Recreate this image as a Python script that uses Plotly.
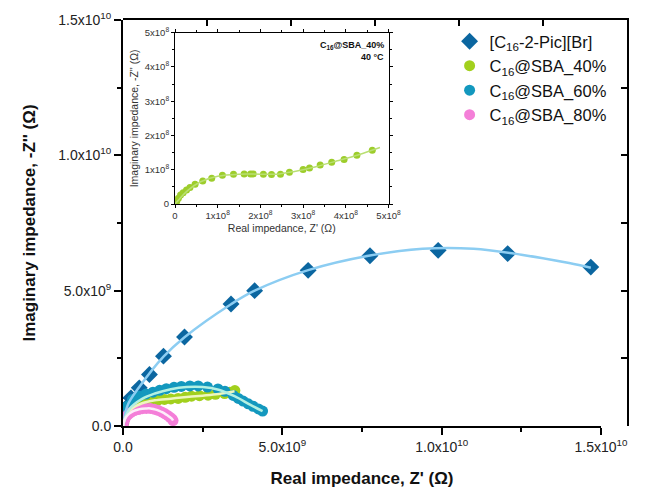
import plotly.graph_objects as go

# ---------------- data (ohm) ----------------
# [C16-2-Pic][Br]
pic_x = [0.05e9, 0.15e9, 0.25e9, 0.51e9, 0.83e9, 1.27e9, 1.93e9, 3.39e9, 4.13e9,
         5.81e9, 7.75e9, 9.89e9, 12.07e9, 14.68e9]
pic_y = [0.40e9, 0.73e9, 1.04e9, 1.41e9, 1.90e9, 2.58e9, 3.29e9, 4.51e9, 5.00e9,
         5.75e9, 6.29e9, 6.49e9, 6.37e9, 5.87e9]
pic_fit_x = [0, 0.15e9, 0.5e9, 1.27e9, 1.93e9, 3.39e9, 4.13e9, 5.81e9, 7.75e9,
             9.4e9, 11.0e9, 12.5e9, 14.0e9, 14.68e9]
pic_fit_y = [0, 0.78e9, 1.42e9, 2.56e9, 3.28e9, 4.50e9, 5.00e9, 5.76e9, 6.30e9,
             6.55e9, 6.55e9, 6.33e9, 6.02e9, 5.85e9]

# C16@SBA_40%
s40_x = [0.02e9, 0.05e9, 0.10e9, 0.17e9, 0.27e9, 0.40e9, 0.56e9, 0.72e9, 0.89e9,
         1.10e9, 1.30e9, 1.50e9, 1.73e9, 1.95e9, 2.15e9, 2.40e9, 2.67e9, 2.90e9,
         3.19e9, 3.35e9, 3.51e9]
s40_y = [0.10e9, 0.25e9, 0.40e9, 0.55e9, 0.68e9, 0.78e9, 0.85e9, 0.90e9, 0.93e9,
         0.96e9, 0.98e9, 1.00e9, 1.02e9, 1.06e9, 1.10e9, 1.12e9, 1.14e9, 1.17e9,
         1.20e9, 1.25e9, 1.31e9]
s40_fit_x = [0, 0.1e9, 0.3e9, 0.6e9, 1.0e9, 1.5e9, 2.0e9, 2.5e9, 3.0e9, 3.5e9]
s40_fit_y = [0, 0.38e9, 0.66e9, 0.84e9, 0.95e9, 1.01e9, 1.07e9, 1.12e9, 1.18e9, 1.28e9]

# C16@SBA_60%
s60_x = [0.02e9, 0.06e9, 0.15e9, 0.30e9, 0.51e9, 0.72e9, 0.94e9, 1.15e9, 1.36e9,
         1.60e9, 1.83e9, 2.10e9, 2.36e9, 2.65e9, 2.98e9, 3.20e9, 3.46e9, 3.62e9,
         3.77e9, 3.93e9, 4.08e9, 4.25e9, 4.38e9]
s60_y = [0.15e9, 0.49e9, 0.73e9, 0.98e9, 1.10e9, 1.18e9, 1.25e9, 1.32e9, 1.38e9,
         1.43e9, 1.46e9, 1.48e9, 1.48e9, 1.44e9, 1.37e9, 1.28e9, 1.13e9, 1.02e9,
         0.92e9, 0.82e9, 0.73e9, 0.63e9, 0.55e9]
s60_fit_x = [0, 0.2e9, 0.6e9, 1.0e9, 1.5e9, 2.0e9, 2.5e9, 3.0e9, 3.5e9, 4.0e9, 4.38e9]
s60_fit_y = [0, 0.62e9, 1.0e9, 1.2e9, 1.36e9, 1.44e9, 1.44e9, 1.34e9, 1.10e9, 0.78e9, 0.55e9]

# C16@SBA_80%
s80_x = [0.01e9, 0.04e9, 0.09e9, 0.16e9, 0.25e9, 0.36e9, 0.48e9, 0.60e9, 0.73e9,
         0.86e9, 0.98e9, 1.10e9, 1.21e9, 1.31e9, 1.40e9, 1.48e9, 1.54e9, 1.57e9]
s80_y = [0.05e9, 0.20e9, 0.32e9, 0.42e9, 0.50e9, 0.57e9, 0.61e9, 0.64e9, 0.65e9,
         0.65e9, 0.62e9, 0.58e9, 0.52e9, 0.46e9, 0.39e9, 0.32e9, 0.26e9, 0.20e9]
s80_fit_x = [0] + s80_x
s80_fit_y = [0] + s80_y

# C16@SBA_40% at 40 °C (inset)
in_x = [0.01e8, 0.04e8, 0.08e8, 0.13e8, 0.19e8, 0.27e8, 0.35e8, 0.47e8, 0.65e8,
        0.86e8, 1.11e8, 1.37e8, 1.62e8, 1.77e8, 1.83e8, 2.07e8, 2.26e8, 2.47e8,
        2.68e8, 3.00e8, 3.15e8, 3.40e8, 3.67e8, 3.96e8, 4.26e8, 4.62e8]
in_y = [0.02e8, 0.07e8, 0.17e8, 0.26e8, 0.33e8, 0.41e8, 0.48e8, 0.58e8, 0.67e8,
        0.75e8, 0.84e8, 0.87e8, 0.875e8, 0.875e8, 0.875e8, 0.87e8, 0.86e8, 0.87e8,
        0.925e8, 1.01e8, 1.05e8, 1.14e8, 1.22e8, 1.30e8, 1.42e8, 1.57e8]
in_fit_x = [0, 0.1e8, 0.3e8, 0.6e8, 1.0e8, 1.5e8, 2.0e8, 2.4e8, 2.8e8, 3.3e8, 3.8e8,
            4.3e8, 4.8e8]
in_fit_y = [0, 0.14e8, 0.40e8, 0.65e8, 0.81e8, 0.87e8, 0.87e8, 0.87e8, 0.95e8,
            1.09e8, 1.26e8, 1.44e8, 1.65e8]

# tick labels
main_tickvals = [0, 5e9, 1e10, 1.5e10]
main_ticktext = ["0.0", "5.0x10<sup>9</sup>", "1.0x10<sup>10</sup>", "1.5x10<sup>10</sup>"]
inset_tickvals = [0, 1e8, 2e8, 3e8, 4e8, 5e8]
inset_ticktext = ["0", "1x10<sup>8</sup>", "2x10<sup>8</sup>", "3x10<sup>8</sup>",
                  "4x10<sup>8</sup>", "5x10<sup>8</sup>"]

FONT = "Liberation Sans, Arial, sans-serif"

C_PIC, C_PIC_FIT = "#0b66a0", "#8ccdf2"
C_40, C_40_FIT = "#a2d01d", "#eef6bf"
C_60, C_60_FIT = "#1398be", "#b3f0e2"
C_80, C_80_FIT = "#f47fd8", "#fdeefa"

fig = go.Figure()

# ---- main plot markers ----
fig.add_trace(go.Scatter(x=pic_x, y=pic_y, mode="markers", name="[C<sub>16</sub>-2-Pic][Br]",
                         marker=dict(symbol="diamond", size=13, color=C_PIC)))
fig.add_trace(go.Scatter(x=s40_x, y=s40_y, mode="markers", name="C<sub>16</sub>@SBA_40%",
                         marker=dict(symbol="circle", size=11, color=C_40)))
fig.add_trace(go.Scatter(x=s60_x, y=s60_y, mode="markers", name="C<sub>16</sub>@SBA_60%",
                         marker=dict(symbol="circle", size=11, color=C_60)))
fig.add_trace(go.Scatter(x=s80_x, y=s80_y, mode="markers", name="C<sub>16</sub>@SBA_80%",
                         marker=dict(symbol="circle", size=11, color=C_80)))

# ---- fitted curves ----
for fx, fy, col in [(pic_fit_x, pic_fit_y, C_PIC_FIT), (s40_fit_x, s40_fit_y, C_40_FIT),
                    (s60_fit_x, s60_fit_y, C_60_FIT), (s80_fit_x, s80_fit_y, C_80_FIT)]:
    fig.add_trace(go.Scatter(x=fx, y=fy, mode="lines", line=dict(color=col, width=2.5, shape="spline"),
                             showlegend=False, hoverinfo="skip"))

# ---- inset ----
fig.add_trace(go.Scatter(x=in_x, y=in_y, mode="markers", xaxis="x2", yaxis="y2", showlegend=False,
                         marker=dict(symbol="circle", size=7, color="#9dcd2b")))
fig.add_trace(go.Scatter(x=in_fit_x, y=in_fit_y, mode="lines", xaxis="x2", yaxis="y2", showlegend=False,
                         line=dict(color="#b9df72", width=1.5, shape="spline"), hoverinfo="skip"))

# ---- frame axes (top / right) ----
fig.add_trace(go.Scatter(x=[None], y=[None], xaxis="x3", yaxis="y3", showlegend=False, hoverinfo="skip"))

tickfont = dict(family=FONT, size=14, color="#222")
fig.update_layout(
    width=662, height=492, autosize=False,
    margin=dict(l=123, r=35, t=20, b=66),
    paper_bgcolor="white", plot_bgcolor="rgba(0,0,0,0)",
    font=dict(family=FONT, color="#111"),
    showlegend=True,
    legend=dict(x=0.648, y=0.99, xanchor="left", yanchor="top", bgcolor="rgba(0,0,0,0)",
                font=dict(family=FONT, size=16.5, color="#111"), itemwidth=30),
    xaxis=dict(domain=[0, 478 / 504], range=[0, 1.5e10], anchor="y", automargin=False,
               showline=True, linewidth=2, linecolor="black", showgrid=False, zeroline=False,
               ticks="outside", ticklen=7, tickwidth=1.5, tickcolor="black",
               tickvals=main_tickvals, ticktext=main_ticktext, tickfont=tickfont,
               minor=dict(tickvals=[2.5e9, 7.5e9, 1.25e10], ticks="outside", ticklen=4,
                          tickwidth=1.5, tickcolor="black"),
               title=dict(text="<b>Real impedance, Z' (Ω)</b>", font=dict(family=FONT, size=17, color="#111"),
                          standoff=18)),
    yaxis=dict(domain=[0, 1], range=[0, 1.5e10], anchor="x", automargin=False,
               showline=True, linewidth=2, linecolor="black", showgrid=False, zeroline=False,
               ticks="outside", ticklen=7, tickwidth=1.5, tickcolor="black",
               tickvals=main_tickvals, ticktext=main_ticktext, tickfont=tickfont,
               minor=dict(tickvals=[2.5e9, 7.5e9, 1.25e10], ticks="outside", ticklen=4,
                          tickwidth=1.5, tickcolor="black"),
               title=dict(text="<b>Imaginary impedance, -Z'' (Ω)</b>", font=dict(family=FONT, size=17, color="#111"),
                          standoff=18)),
    xaxis3=dict(domain=[0, 1], range=[0, 6], anchor="y3", side="top", automargin=False,
                showline=True, linewidth=1.5, linecolor="black", showgrid=False, zeroline=False,
                ticks="inside", ticklen=6, tickwidth=1.5, tickcolor="black",
                tickvals=[1, 2, 3, 4, 5], showticklabels=False, fixedrange=True),
    yaxis3=dict(domain=[0, 1], range=[0, 1.5e10], anchor="x3", side="right", automargin=False,
                showline=True, linewidth=1.5, linecolor="black", showgrid=False, zeroline=False,
                ticks="inside", ticklen=6, tickwidth=1.5, tickcolor="black",
                tickvals=[2.5e9, 5e9, 7.5e9, 1e10, 1.25e10], showticklabels=False, fixedrange=True),
    xaxis2=dict(domain=[(175 - 123) / 504, (388.5 - 123) / 504], range=[0, 5e8], anchor="y2",
                automargin=False,
                showline=True, linewidth=1, linecolor="black", mirror="ticks", showgrid=False, zeroline=False,
                ticks="outside", ticklen=3, tickwidth=1, tickcolor="black",
                tickvals=inset_tickvals, ticktext=inset_ticktext,
                tickfont=dict(family=FONT, size=9.5, color="#333"),
                minor=dict(tickvals=[0.5e8, 1.5e8, 2.5e8, 3.5e8, 4.5e8], ticks="outside", ticklen=2,
                           tickcolor="black"),
                title=dict(text="Real impedance, Z' (Ω)", font=dict(family=FONT, size=10.5, color="#333"),
                           standoff=4)),
    yaxis2=dict(domain=[(426 - 204) / 406, (426 - 32.7) / 406], range=[0, 5e8], anchor="x2",
                automargin=False,
                showline=True, linewidth=1, linecolor="black", mirror="ticks", showgrid=False, zeroline=False,
                ticks="outside", ticklen=3, tickwidth=1, tickcolor="black",
                tickvals=inset_tickvals, ticktext=inset_ticktext,
                tickfont=dict(family=FONT, size=9.5, color="#333"),
                minor=dict(tickvals=[0.5e8, 1.5e8, 2.5e8, 3.5e8, 4.5e8], ticks="outside", ticklen=2,
                           tickcolor="black"),
                title=dict(text="Imaginary impedance, -Z'' (Ω)", font=dict(family=FONT, size=10.5, color="#333"),
                           standoff=4)),
    annotations=[
        dict(text="<b>C<sub>16</sub>@SBA_40%</b>", xref="x2", yref="y2", x=4.95e8, y=4.85e8,
             xanchor="right", yanchor="top", showarrow=False, font=dict(family=FONT, size=9, color="#111")),
        dict(text="<b>40 °C</b>", xref="x2", yref="y2", x=4.95e8, y=4.5e8,
             xanchor="right", yanchor="top", showarrow=False, font=dict(family=FONT, size=9, color="#111")),
    ],
)

fig.write_html("out.html")
